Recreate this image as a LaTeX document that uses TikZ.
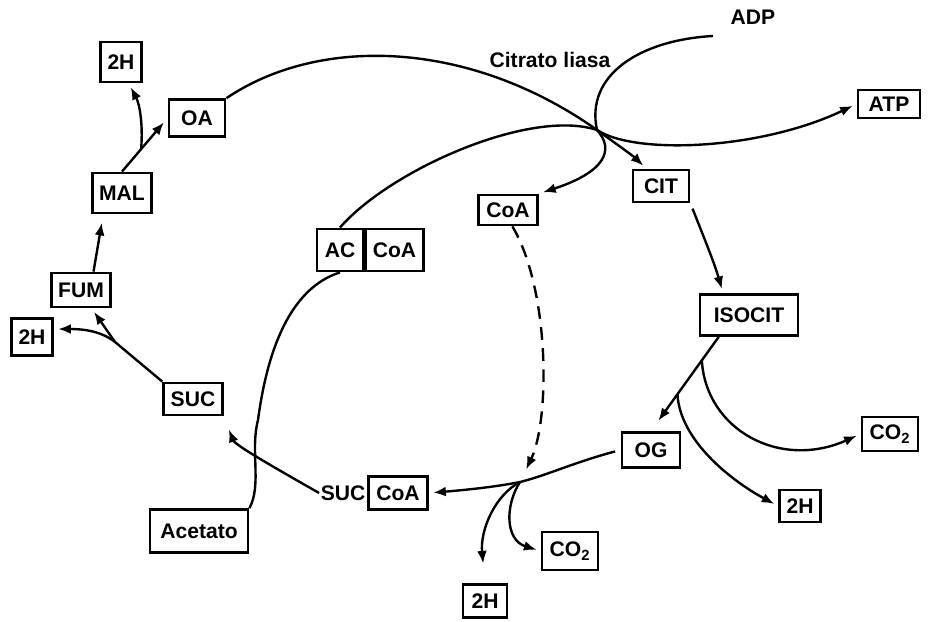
\documentclass[tikz,border=0pt]{standalone}
\usepackage{fontspec}
\setmainfont{Liberation Sans}
\usetikzlibrary{arrows.meta,calc}
\tikzset{>={Latex[length=9pt,width=7pt]}}
\tikzset{
  box/.style={draw,line width=2pt,inner xsep=5pt,inner ysep=2pt,minimum width=1.4cm,minimum height=0.85cm,font=\fontsize{15}{17}\selectfont\bfseries},
  lbl/.style={inner sep=1pt,font=\fontsize{15}{17}\selectfont\bfseries},
  flow/.style={line width=1.7pt},
  flowar/.style={flow,->,shorten >=3pt}
}

\begin{document}
\begin{tikzpicture}[x=0.025cm,y=-0.025cm]
\useasboundingbox (0,0) rectangle (933,622);
% nodes
\node (adp) [lbl] at (753,17) {ADP};
\node (liasa) [lbl] at (550,60) {Citrato liasa};
\node (atp) [box,minimum width=1.55cm,minimum height=0.7cm] at (889,104) {ATP};
\node (h2a) [box,minimum width=0.95cm,minimum height=1cm] at (121,62) {2H};
\node (oa) [box,minimum height=0.92cm] at (197,118) {OA};
\node (mal) [box,minimum height=1cm] at (122,193) {MAL};
\node (fum) [box] at (81,290) {FUM};
\node (h2b) [box,minimum width=1.02cm,minimum height=0.92cm] at (32,337) {2H};
\node (suc) [box,minimum height=0.8cm] at (193,399) {SUC};
\node (ac) [box,minimum width=1.15cm,minimum height=1.05cm] at (340,250) {AC};
\node (accoa) [box,minimum height=1.05cm,anchor=west] at (ac.east) {CoA};
\node (coa) [box,minimum width=1.48cm,minimum height=0.75cm] at (508,210) {CoA};
\node (cit) [box,minimum height=0.8cm] at (661,186) {CIT};
\node (isocit) [box,minimum width=2.45cm,minimum height=1.02cm] at (749,315) {ISOCIT};
\node (co2a) [box] at (890,434) {CO\textsubscript{2}};
\node (og) [box,minimum width=1.45cm,minimum height=0.88cm] at (651,450) {OG};
\node (h2c) [box,minimum width=1cm,minimum height=0.8cm] at (800,506) {2H};
\node (sccoa) [box,minimum width=1.48cm,minimum height=0.82cm] at (398,493) {CoA};
\node (suctxt) [lbl,anchor=east] at (sccoa.west) {SUC};
\node (acetato) [box,minimum width=2.45cm,minimum height=1.07cm] at (199,531) {Acetato};
\node (co2b) [box,minimum height=0.95cm] at (570,551) {CO\textsubscript{2}};
\node (h2d) [box,minimum width=1.1cm,minimum height=0.82cm] at (485,601) {2H};

% junctions
\coordinate (lyase) at (597,130);
\coordinate (adpend) at (713,36);
\coordinate (sj) at (520,482);
\coordinate (fork) at (115,342);

% citrato liasa
\draw[flow] (oa.north east) .. controls (320,35) and (470,40) .. (lyase);
\draw[flowar] (lyase) .. controls (615,143) and (632,155) .. (cit.130);
\draw[flow] (ac.north) .. controls (390,170) and (530,108) .. (lyase);
\draw[flowar] (lyase) .. controls (635,155) and (760,150) .. (atp.west);
\draw[flow] (adpend) .. controls (640,40) and (585,75) .. (lyase);
\draw[flowar] (lyase) .. controls (615,150) and (605,172) .. (coa.north east);
\draw[flowar,dash pattern=on 9pt off 6pt,shorten >=10pt] (coa.-75) .. controls (550,290) and (550,420) .. (sj);

% ciclo
\draw[flowar,shorten <=4pt] (cit.south east) .. controls (705,240) and (715,265) .. (isocit.140);
\draw[flowar,shorten >=9pt] ($(isocit.south west)!.2!(isocit.south east)$) -- coordinate[pos=.25] (b1) coordinate[pos=.61] (b2) (og.north);
\draw[flowar] (b1) .. controls (706,430) and (780,470) .. (co2a.west);
\draw[flowar] (b2) .. controls (680,440) and (730,480) .. (h2c.west);
\draw[flow,shorten <=4pt] (og.west) .. controls (575,462) and (545,476) .. (sj);
\draw[flowar] (sj) .. controls (495,487) and (465,490) .. (sccoa.east);
\draw[flowar,shorten >=14pt] (sj) .. controls (495,495) and (480,530) .. (h2d.north);
\draw[flowar] (sj) .. controls (505,505) and (505,540) .. (co2b.west);
\draw[flowar,shorten >=10pt] (suctxt.west) .. controls (270,465) and (235,445) .. (suc.south east);
\draw[flow] (suc.north west) -- (fork);
\draw[flowar] (fork) -- (fum.-60);
\draw[flowar] (fork) .. controls (100,330) and (80,329) .. (h2b.20);
\draw[flowar,shorten >=6pt] ($(fum.north west)!.7!(fum.north east)$) -- ($(mal.south west)!.2!(mal.south east)$);
\draw[flowar,shorten >=4pt] (mal.north) -- coordinate[pos=.42] (b4) (oa.west);
\draw[flowar] (b4) .. controls (143,125) and (140,105) .. (h2a.-70);

% acetato
\draw[flow] (acetato.north east) .. controls (262,485) and (250,450) .. (258,420) .. controls (270,330) and (300,285) .. (ac.south);
\end{tikzpicture}
\end{document}
